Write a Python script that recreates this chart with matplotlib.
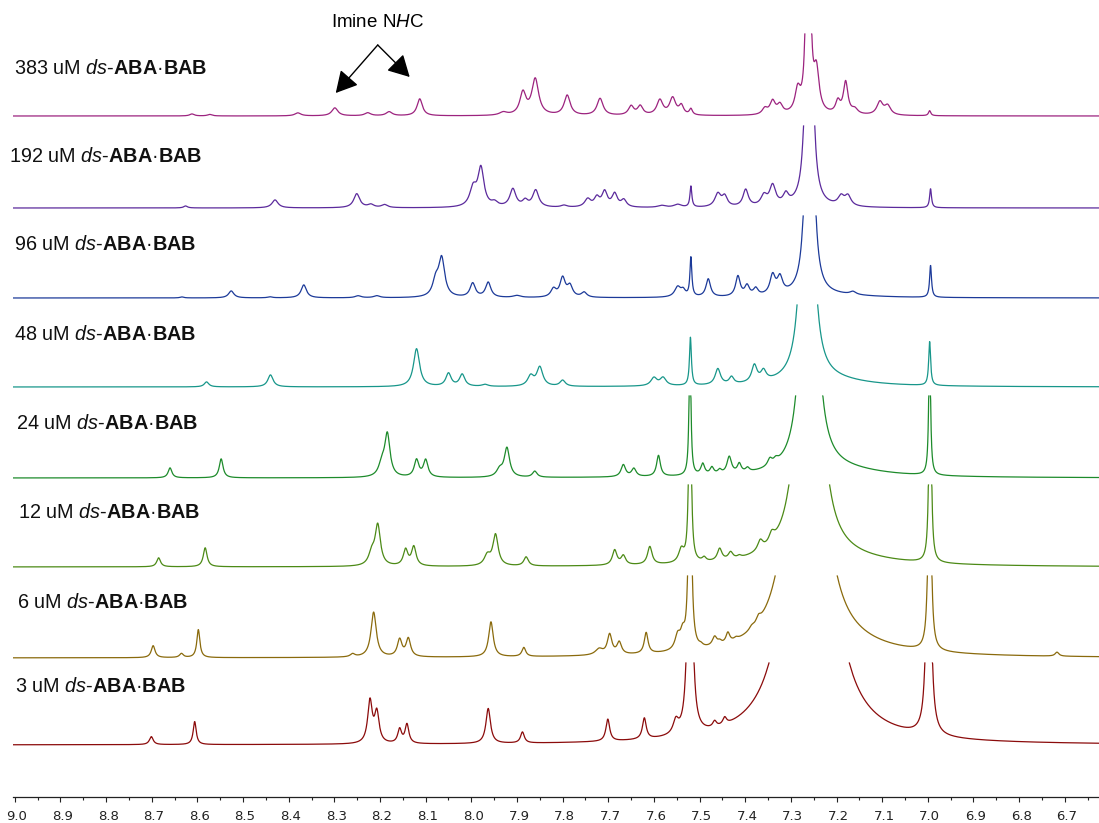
import numpy as np
import matplotlib.pyplot as plt
from matplotlib.transforms import ScaledTranslation

plt.rcParams['font.family'] = ['Liberation Sans', 'DejaVu Sans']
plt.rcParams['mathtext.fontset'] = 'custom'
plt.rcParams['mathtext.rm'] = 'Liberation Sans'
plt.rcParams['mathtext.it'] = 'Liberation Sans:italic'
plt.rcParams['mathtext.bf'] = 'Liberation Sans:bold'

# concentrations (uM), top to bottom
conc = ['383', '192', '96', '48', '24', '12', '6', '3']
colors = ['#9c237f', '#5b2a9c', '#1c3a99', '#17968a', '#1d8b2b', '#4c8a16', '#8a6a0c', '#8b0b0b']

# peak lists: (ppm, height, half width)
peaks_383 = [(8.612, 2, 0.006), (8.573, 1.5, 0.006), (8.38, 3, 0.008), (8.299, 8, 0.008),
             (8.227, 3, 0.008), (8.18, 4, 0.008), (8.113, 17, 0.007), (7.93, 3, 0.01),
             (7.887, 22, 0.008), (7.86, 36, 0.009), (7.79, 20, 0.008), (7.718, 17, 0.008),
             (7.65, 9, 0.007), (7.63, 9, 0.007), (7.587, 15, 0.008), (7.559, 17, 0.008),
             (7.54, 9, 0.006), (7.519, 6, 0.004), (7.357, 6, 0.007), (7.34, 13, 0.007),
             (7.324, 9, 0.007), (7.285, 22, 0.007), (7.262, 1000, 0.00214), (7.244, 40, 0.007),
             (7.197, 12, 0.006), (7.18, 32, 0.006), (7.16, 5, 0.008), (7.105, 13, 0.008),
             (7.088, 9, 0.008), (6.996, 5, 0.003)]
peaks_192 = [(8.626, 2, 0.005), (8.43, 8, 0.008), (8.251, 14, 0.008), (8.22, 3, 0.008),
             (8.19, 3, 0.008), (7.996, 18, 0.009), (7.979, 38, 0.008), (7.949, 4, 0.008),
             (7.909, 18, 0.008), (7.882, 6, 0.007), (7.859, 17, 0.008), (7.797, 2, 0.008),
             (7.745, 8, 0.008), (7.725, 9, 0.007), (7.708, 15, 0.007), (7.686, 13, 0.007),
             (7.666, 7, 0.007), (7.583, 2, 0.01), (7.548, 3, 0.01), (7.519, 21, 0.0025),
             (7.46, 13, 0.008), (7.445, 10, 0.007), (7.399, 17, 0.007), (7.359, 10, 0.008),
             (7.34, 20, 0.008), (7.311, 10, 0.007), (7.26, 1000, 0.0037), (7.19, 9, 0.008),
             (7.175, 10, 0.008), (6.994, 19, 0.0025)]
peaks_96 = [(8.634, 1, 0.005), (8.526, 7, 0.007), (8.441, 1, 0.006), (8.367, 13, 0.007),
            (8.248, 2, 0.008), (8.207, 2, 0.008), (8.078, 15, 0.008), (8.065, 38, 0.008),
            (7.997, 14, 0.007), (7.963, 15, 0.007), (7.9, 2, 0.01), (7.82, 8, 0.007),
            (7.8, 19, 0.007), (7.784, 11, 0.007), (7.753, 5, 0.007), (7.548, 10, 0.008),
            (7.536, 6, 0.006), (7.519, 39, 0.0025), (7.481, 18, 0.006), (7.416, 20, 0.006),
            (7.396, 10, 0.006), (7.377, 7, 0.006), (7.34, 19, 0.007), (7.324, 16, 0.007),
            (7.259, 1000, 0.00424), (7.2, 2, 0.1), (7.164, 3, 0.008), (6.994, 32, 0.0025)]
peaks_48 = [(8.58, 5, 0.006), (8.44, 12, 0.007), (8.12, 38, 0.008), (8.05, 13, 0.007),
            (8.02, 12, 0.007), (7.97, 2, 0.008), (7.87, 10, 0.008), (7.85, 19, 0.008),
            (7.8, 6, 0.007), (7.6, 8, 0.008), (7.58, 8, 0.008), (7.52, 48, 0.0025),
            (7.46, 16, 0.007), (7.43, 7, 0.006), (7.38, 17, 0.007), (7.36, 10, 0.007),
            (7.264, 1000, 0.00656), (7.22, 6, 0.1), (6.996, 44, 0.0025)]
peaks_24 = [(8.66, 10, 0.005), (8.548, 19, 0.005), (8.196, 12, 0.008), (8.184, 42, 0.007),
            (8.12, 17, 0.006), (8.10, 17, 0.006), (7.938, 7, 0.008), (7.922, 29, 0.007),
            (7.861, 6, 0.006), (7.667, 12, 0.006), (7.644, 8, 0.006), (7.59, 21, 0.005),
            (7.521, 150, 0.0022), (7.493, 11, 0.005), (7.473, 7, 0.005), (7.456, 4, 0.005),
            (7.435, 17, 0.006), (7.413, 9, 0.005), (7.395, 4, 0.005), (7.346, 7, 0.006),
            (7.333, 4, 0.006), (7.26, 1000, 0.0086), (7.2, 7, 0.12), (6.996, 150, 0.0022)]
peaks_12 = [(8.685, 9, 0.005), (8.583, 19, 0.005), (8.218, 12, 0.008), (8.205, 40, 0.007),
            (8.144, 16, 0.006), (8.126, 19, 0.006), (7.965, 10, 0.008), (7.947, 31, 0.007),
            (7.88, 9, 0.006), (7.686, 15, 0.006), (7.667, 9, 0.006), (7.609, 18, 0.006),
            (7.54, 13, 0.007), (7.521, 300, 0.0023), (7.49, 4, 0.005), (7.456, 12, 0.006),
            (7.432, 7, 0.006), (7.413, 2, 0.005), (7.367, 10, 0.007), (7.342, 9, 0.007),
            (7.26, 1000, 0.0129), (7.2, 6, 0.15), (6.995, 300, 0.0023)]
peaks_6 = [(8.697, 12, 0.005), (8.635, 4, 0.005), (8.598, 28, 0.004), (8.26, 3, 0.006),
           (8.214, 45, 0.007), (8.157, 17, 0.006), (8.138, 18, 0.006), (7.957, 35, 0.006),
           (7.885, 9, 0.005), (7.72, 6, 0.01), (7.697, 20, 0.006), (7.676, 12, 0.006),
           (7.617, 21, 0.005), (7.548, 14, 0.007), (7.537, 14, 0.006), (7.521, 300, 0.003),
           (7.497, 2, 0.005), (7.467, 9, 0.006), (7.456, 3, 0.005), (7.438, 10, 0.005),
           (7.42, 2, 0.005), (7.386, 3, 0.006), (7.371, 6, 0.006), (7.267, 1000, 0.0197),
           (7.2, 6, 0.15), (6.996, 300, 0.003), (6.717, 4, 0.005)]
peaks_3 = [(8.701, 8, 0.005), (8.606, 23, 0.004), (8.222, 42, 0.006), (8.207, 30, 0.006),
           (8.157, 14, 0.005), (8.141, 19, 0.005), (7.963, 35, 0.006), (7.888, 11, 0.005),
           (7.701, 22, 0.005), (7.621, 21, 0.005), (7.552, 13, 0.007), (7.521, 400, 0.0042),
           (7.467, 6, 0.005), (7.445, 7, 0.005), (7.26, 1000, 0.0263), (6.998, 400, 0.004)]

spectra = [peaks_383, peaks_192, peaks_96, peaks_48, peaks_24, peaks_12, peaks_6, peaks_3]

# layout (pixel-based)
offsets = [681, 589, 499, 410, 319, 230, 139, 52]
label_x = [14, 9, 14, 14, 16, 18, 17, 15]
label_y = [68, 157, 245, 334, 424, 512, 602, 687]
clip_top = 82

ppm = np.linspace(9.004, 6.625, 6000)


def spectrum(x, peaks):
    y = np.zeros_like(x)
    for p, h, w in peaks:
        y += h * w**2 / ((x - p)**2 + w**2)
    return y


def clip_trace(y, top):
    over = y > top
    out = np.minimum(y, top)
    inner = over & np.roll(over, 1) & np.roll(over, -1)
    out[inner] = np.nan
    return out


fig = plt.figure(figsize=(10.99, 8.23), dpi=100)
ax = fig.add_axes([13/1099, 26/823, 1086/1099, 797/823])

for peaks, off, col in zip(spectra, offsets, colors):
    y = clip_trace(spectrum(ppm, peaks), clip_top)
    ax.plot(ppm, y + off, color=col, lw=0.9)

for c, lx, ly in zip(conc, label_x, label_y):
    fig.text(lx/1099, 1 - ly/823,
             c + r' uM $\mathit{ds}$-$\mathbf{ABA}$·$\mathbf{BAB}$',
             fontsize=14.3, va='center', ha='left', color='#111111')

# imine annotation
ax.text(8.205, 797 - 22, r'Imine N$\mathit{H}$C', fontsize=13.5, ha='center', va='center')
for tip in [(8.297, 797 - 93), (8.135, 797 - 77)]:
    ax.annotate('', xy=tip, xytext=(8.205, 797 - 45),
                arrowprops=dict(arrowstyle='-|>,head_length=0.55,head_width=0.3',
                                color='k', lw=1.0,
                                mutation_scale=24, shrinkA=0, shrinkB=0))

ax.set_xlim(9.004, 6.625)
ax.set_ylim(0, 797)
for s in ['left', 'right', 'top']:
    ax.spines[s].set_visible(False)
ax.spines['bottom'].set_color('#222222')
ax.spines['bottom'].set_linewidth(0.9)
ax.set_yticks([])
ax.set_xticks(np.round(np.arange(6.7, 9.01, 0.1), 1))
ax.set_xticks(np.round(np.arange(6.65, 9.01, 0.05), 2), minor=True)
ax.xaxis.set_major_formatter(plt.FormatStrFormatter('%.1f'))
ax.tick_params(axis='x', which='major', length=3.5, width=0.8, pad=6,
               labelsize=9.5, colors='#222222', labelfontfamily='DejaVu Sans')
ax.tick_params(axis='x', which='minor', length=2, width=0.8, colors='#222222')
shift = ScaledTranslation(2/100, 0, fig.dpi_scale_trans)
for lab in ax.get_xticklabels():
    lab.set_transform(lab.get_transform() + shift)

fig.savefig('out.png', dpi=100)
